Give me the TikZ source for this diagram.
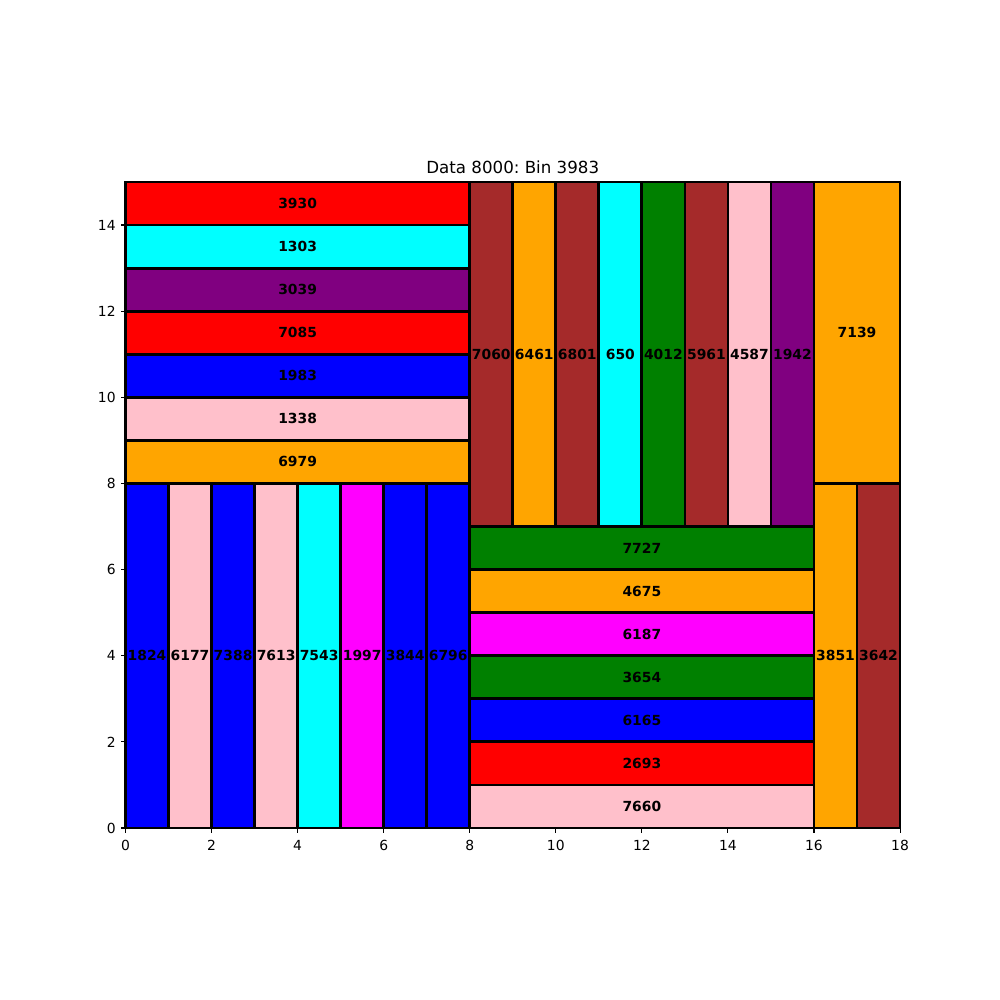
\documentclass[tikz,border=0pt]{standalone}
\usepackage{fontspec}
\setmainfont{DejaVu Sans}
\frenchspacing
\definecolor{mbrown}{HTML}{A52A2A}
\definecolor{morange}{HTML}{FFA500}
\definecolor{mpink}{HTML}{FFC0CB}
\definecolor{mcyan}{HTML}{00FFFF}
\definecolor{mgreen}{HTML}{008000}
\definecolor{mpurple}{HTML}{800080}
\definecolor{mblue}{HTML}{0000FF}
\definecolor{mred}{HTML}{FF0000}
\definecolor{mmagenta}{HTML}{FF00FF}
\tikzset{
  binrect/.style={draw=black, line width=2.78pt},
  binlabel/.style={font=\fontsize{13.89}{16}\selectfont\bfseries, inner sep=0pt},
  ticklabel/.style={font=\fontsize{13.89}{16}\selectfont, inner sep=0pt},
}
\begin{document}
\begin{tikzpicture}[x=1pt,y=1pt]
\useasboundingbox (0,0) rectangle (1000,1000);
\fill[white] (0,0) rectangle (1000,1000);
\begin{scope}[shift={(125.5pt,172pt)}, x=43.03pt, y=43.067pt]
\foreach \x/\y/\w/\h/\c/\l [count=\i] in {
  0/8/8/1/morange/6979, 0/9/8/1/mpink/1338, 0/10/8/1/mblue/1983, 0/11/8/1/mred/7085,
  0/12/8/1/mpurple/3039, 0/13/8/1/mcyan/1303, 0/14/8/1/mred/3930,
  0/0/1/8/mblue/1824, 1/0/1/8/mpink/6177, 2/0/1/8/mblue/7388, 3/0/1/8/mpink/7613,
  4/0/1/8/mcyan/7543, 5/0/1/8/mmagenta/1997, 6/0/1/8/mblue/3844, 7/0/1/8/mblue/6796,
  8/7/1/8/mbrown/7060, 9/7/1/8/morange/6461, 10/7/1/8/mbrown/6801, 11/7/1/8/mcyan/650,
  12/7/1/8/mgreen/4012, 13/7/1/8/mbrown/5961, 14/7/1/8/mpink/4587, 15/7/1/8/mpurple/1942,
  8/0/8/1/mpink/7660, 8/1/8/1/mred/2693, 8/2/8/1/mblue/6165, 8/3/8/1/mgreen/3654,
  8/4/8/1/mmagenta/6187, 8/5/8/1/morange/4675, 8/6/8/1/mgreen/7727,
  16/8/2/7/morange/7139, 16/0/1/8/morange/3851, 17/0/1/8/mbrown/3642}
{
  \filldraw[binrect, fill=\c] (\x,\y) rectangle ++(\w,\h);
}
\foreach \x/\y/\w/\h/\c/\l [count=\i] in {
  0/8/8/1/morange/6979, 0/9/8/1/mpink/1338, 0/10/8/1/mblue/1983, 0/11/8/1/mred/7085,
  0/12/8/1/mpurple/3039, 0/13/8/1/mcyan/1303, 0/14/8/1/mred/3930,
  0/0/1/8/mblue/1824, 1/0/1/8/mpink/6177, 2/0/1/8/mblue/7388, 3/0/1/8/mpink/7613,
  4/0/1/8/mcyan/7543, 5/0/1/8/mmagenta/1997, 6/0/1/8/mblue/3844, 7/0/1/8/mblue/6796,
  8/7/1/8/mbrown/7060, 9/7/1/8/morange/6461, 10/7/1/8/mbrown/6801, 11/7/1/8/mcyan/650,
  12/7/1/8/mgreen/4012, 13/7/1/8/mbrown/5961, 14/7/1/8/mpink/4587, 15/7/1/8/mpurple/1942,
  8/0/8/1/mpink/7660, 8/1/8/1/mred/2693, 8/2/8/1/mblue/6165, 8/3/8/1/mgreen/3654,
  8/4/8/1/mmagenta/6187, 8/5/8/1/morange/4675, 8/6/8/1/mgreen/7727,
  16/8/2/7/morange/7139, 16/0/1/8/morange/3851, 17/0/1/8/mbrown/3642}
{
  \node[binlabel] (lab\i) at ({\x+\w/2},{\y+\h/2}) {\l};
}
% axes frame
\draw[line width=1.11pt] (0,0) rectangle (18,15);
\foreach \t in {0,2,...,18} {
  \draw[line width=1.11pt] (\t,0) -- ++(0pt,-4.86pt);
  \node[ticklabel, anchor=north] (xt\t) at ([yshift=-11.7pt]\t,0) {\t};
}
\foreach \t in {0,2,...,14} {
  \draw[line width=1.11pt] (0,\t) -- ++(-4.86pt,0pt);
  \node[ticklabel, anchor=east] (yt\t) at ([xshift=-9.7pt]0,\t) {\t};
}
\node[font=\fontsize{16.67}{19}\selectfont, anchor=south, inner sep=0pt] (title) at ([yshift=8.3pt]9,15) {Data 8000: Bin 3983};
\end{scope}
\end{tikzpicture}
\end{document}
